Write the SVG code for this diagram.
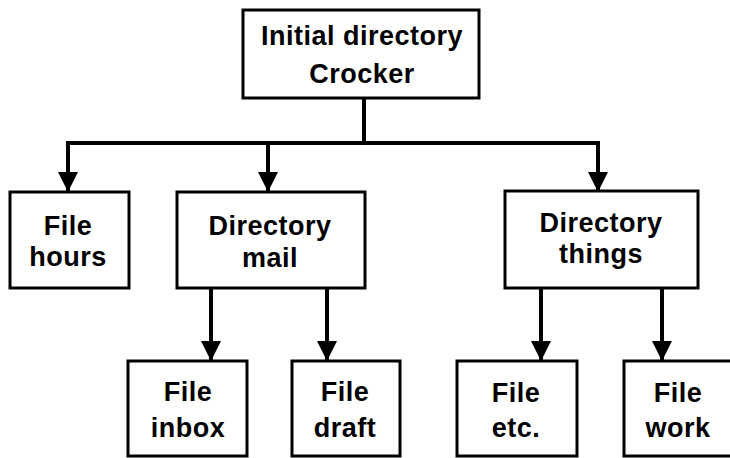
<svg xmlns="http://www.w3.org/2000/svg" width="730" height="458" viewBox="0 0 730 458">
<defs>
<marker id="ah" markerUnits="userSpaceOnUse" markerWidth="20" markerHeight="20" refX="19" refY="10" orient="auto" viewBox="0 0 20 20">
<path d="M0,0 L20,10 L0,20 Z" fill="#000"/>
</marker>
<style>
.box{fill:#fff;stroke:#000;stroke-width:3}
.t{font-family:"Liberation Sans",Arial,sans-serif;font-weight:bold;font-size:27px;text-anchor:middle;fill:#000;letter-spacing:0.5px}
.c{fill:none;stroke:#000;stroke-width:4}
.a{fill:none;stroke:#000;stroke-width:4;marker-end:url(#ah)}
</style>
</defs>
<rect width="730" height="458" fill="#fff"/>
<g id="connectors">
<path class="c" d="M364,98 L364,143"/>
<path class="c" d="M68,143 L598,143"/>
<path class="a" d="M68,141 L68,191"/>
<path class="a" d="M268,141 L268,191"/>
<path class="a" d="M598,141 L598,191"/>
<path class="a" d="M211,288 L211,360"/>
<path class="a" d="M327,288 L327,360"/>
<path class="a" d="M541,288 L541,360"/>
<path class="a" d="M662,288 L662,360"/>
</g>
<g id="root">
<rect class="box" x="243" y="10" width="236" height="88"/>
<text class="t" x="362" y="45">Initial directory</text>
<text class="t" x="362" y="83">Crocker</text>
</g>
<g id="file-hours">
<rect class="box" x="10" y="192" width="119" height="96"/>
<text class="t" x="68" y="235">File</text>
<text class="t" x="68" y="266">hours</text>
</g>
<g id="dir-mail">
<rect class="box" x="177" y="192" width="188" height="96"/>
<text class="t" x="270" y="235">Directory</text>
<text class="t" x="270" y="267">mail</text>
</g>
<g id="dir-things">
<rect class="box" x="505" y="191" width="193" height="97"/>
<text class="t" x="601" y="232">Directory</text>
<text class="t" x="601" y="263">things</text>
</g>
<g id="file-inbox">
<rect class="box" x="128" y="361" width="119" height="95"/>
<text class="t" x="188" y="401">File</text>
<text class="t" x="188" y="437">inbox</text>
</g>
<g id="file-draft">
<rect class="box" x="292" y="361" width="108" height="95"/>
<text class="t" x="345" y="401">File</text>
<text class="t" x="345" y="437">draft</text>
</g>
<g id="file-etc">
<rect class="box" x="457" y="361" width="120" height="95"/>
<text class="t" x="516" y="402">File</text>
<text class="t" x="516" y="437">etc.</text>
</g>
<g id="file-work">
<rect class="box" x="624" y="361" width="110" height="95"/>
<text class="t" x="678" y="402">File</text>
<text class="t" x="678" y="437">work</text>
</g>
</svg>
